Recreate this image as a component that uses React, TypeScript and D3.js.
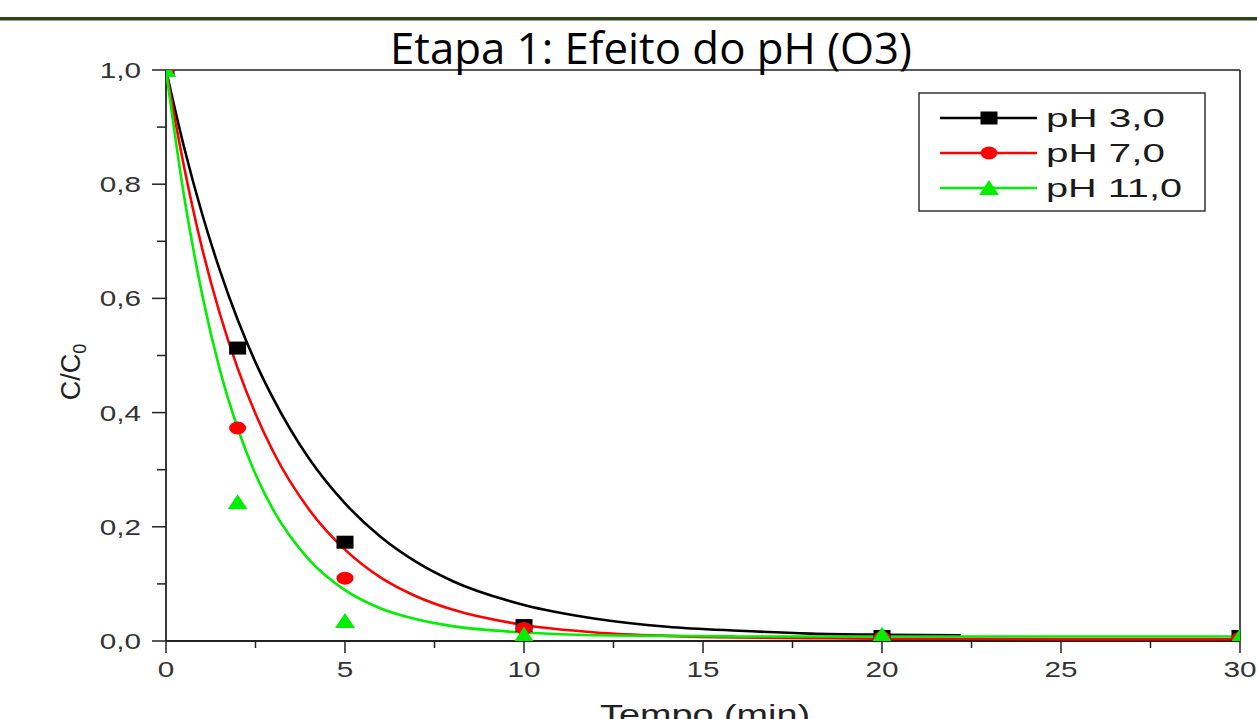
import * as d3 from "d3";

// measured points, C/C0 vs time (min)
const times = [0, 2, 5, 10, 20, 30];
const ph3 = [1.0, 0.513, 0.173, 0.027, 0.008, 0.008];
const ph7 = [1.0, 0.373, 0.11, 0.022, 0.006, 0.005];
const ph11 = [1.0, 0.243, 0.035, 0.011, 0.011, 0.008];

// fitted curves
const fitT = [0, 0.5, 1, 1.5, 2, 2.5, 3, 4, 5, 6, 7, 8, 10, 12, 14, 16, 18, 20, 22.2, 25, 30];
const fit3 = [1.0, 0.866, 0.75, 0.65, 0.563, 0.488, 0.424, 0.319, 0.241, 0.182, 0.138, 0.105, 0.063, 0.039, 0.025, 0.018, 0.013, 0.011, 0.01];
const fit7 = [1.0, 0.832, 0.69, 0.574, 0.478, 0.398, 0.331, 0.23, 0.16, 0.111, 0.078, 0.055, 0.028, 0.015, 0.009, 0.006, 0.005, 0.004, 0.004, 0.003, 0.003];
const fit11 = [1.0, 0.781, 0.61, 0.476, 0.373, 0.292, 0.229, 0.142, 0.089, 0.057, 0.038, 0.026, 0.015, 0.01, 0.009, 0.008, 0.008, 0.008, 0.008, 0.008, 0.008];

const labels = ["pH 3,0", "pH 7,0", "pH 11,0"];
const colors = ["#000000", "#ff0000", "#00ee00"];
const shapes = ["square", "circle", "triangle"];

const W = 1257;
const H = 719;

const x = d3.scaleLinear().domain([0, 30]).range([166, 1240]);
const y = d3.scaleLinear().domain([0, 1]).range([641, 70]);

const comma = (v: number) => d3.format(".1f")(v).replace(".", ",");

// the original picture is stretched sideways, so labels are widened a bit
const STRETCH = 1.35;

function Marker({ cx, cy, shape, color }: { cx: number; cy: number; shape: string; color: string }) {
  if (shape === "square") return <rect x={cx - 8.5} y={cy - 6.5} width={17} height={13} fill={color} />;
  if (shape === "circle") return <ellipse cx={cx} cy={cy} rx={8.5} ry={6.5} fill={color} />;
  return <path d={`M${cx - 10},${cy + 7}L${cx + 10},${cy + 7}L${cx},${cy - 8}Z`} fill={color} />;
}

export default function App() {
  const series = [ph3, ph7, ph11];
  const fits = [fit3, fit7, fit11];
  const line = d3
    .line<[number, number]>()
    .x((d) => x(d[0]))
    .y((d) => y(d[1]))
    .curve(d3.curveMonotoneX);

  const yTicks = d3.range(0, 11).map((i) => i / 10);
  const xMajor = d3.range(0, 31, 5);
  const xMinor = d3.range(2.5, 30, 5);
  const axisColor = "#222";
  const tickFont = "'Liberation Sans', Arial, sans-serif";

  return (
    <div style={{ position: "fixed", left: 0, top: 0 }}>
      <svg width={W} height={H} style={{ display: "block", background: "#fff" }}>
        <defs>
          <clipPath id="plot">
            <rect x={x(0)} y={y(1)} width={x(30) - x(0)} height={y(0) - y(1)} />
          </clipPath>
        </defs>

        <rect x={0} y={17} width={W} height={3.5} fill="#2b4716" />

        {/* frame */}
        <line x1={x(0)} x2={x(30)} y1={y(1)} y2={y(1)} stroke={axisColor} strokeWidth={1.6} />
        <line x1={x(30)} x2={x(30)} y1={y(1)} y2={y(0)} stroke={axisColor} strokeWidth={1.6} />
        <line x1={x(0)} x2={x(0)} y1={y(1)} y2={y(0)} stroke={axisColor} strokeWidth={1.8} />
        <line x1={x(0)} x2={x(30)} y1={y(0)} y2={y(0)} stroke={axisColor} strokeWidth={1.8} />

        <text
          x={651}
          y={64}
          textAnchor="middle"
          fontFamily="'Open Sans', sans-serif"
          fontSize={43}
          textLength={522}
          lengthAdjust="spacingAndGlyphs"
          fill="#000"
        >
          Etapa 1: Efeito do pH (O3)
        </text>

        {/* y ticks */}
        {yTicks.map((v, i) => (
          <g key={"y" + i}>
            <line
              x1={x(0) - (i % 2 === 0 ? 14 : 9)}
              x2={x(0)}
              y1={y(v)}
              y2={y(v)}
              stroke={axisColor}
              strokeWidth={1.5}
            />
            {i % 2 === 0 && (
              <text
                transform={`translate(141,${y(v) + 8}) scale(${STRETCH},1)`}
                textAnchor="end"
                fontFamily={tickFont}
                fontSize={22}
                fill="#333"
              >
                {comma(v)}
              </text>
            )}
          </g>
        ))}

        {/* x ticks */}
        {xMajor.map((v) => (
          <g key={"x" + v}>
            <line x1={x(v)} x2={x(v)} y1={y(0)} y2={y(0) + 12} stroke={axisColor} strokeWidth={1.5} />
            <text
              transform={`translate(${x(v)},677) scale(${STRETCH},1)`}
              textAnchor="middle"
              fontFamily={tickFont}
              fontSize={22}
              fill="#333"
            >
              {v}
            </text>
          </g>
        ))}
        {xMinor.map((v) => (
          <line key={"m" + v} x1={x(v)} x2={x(v)} y1={y(0)} y2={y(0) + 7} stroke={axisColor} strokeWidth={1.5} />
        ))}

        {/* axis titles */}
        <text
          transform={`translate(705,724) scale(${STRETCH},1)`}
          textAnchor="middle"
          fontFamily={tickFont}
          fontSize={28}
          fill="#222"
        >
          Tempo (min)
        </text>
        <text
          transform="translate(80,372) rotate(-90)"
          textAnchor="middle"
          fontFamily={tickFont}
          fontSize={27}
          fill="#222"
        >
          C/C
          <tspan fontSize={18} dy={6}>
            0
          </tspan>
        </text>

        {/* curves and points */}
        <g clipPath="url(#plot)">
          {fits.map((f, i) => (
            <path
              key={"f" + i}
              d={line(f.map((v, j) => [fitT[j], v] as [number, number])) || ""}
              fill="none"
              stroke={colors[i]}
              strokeWidth={2.6}
            />
          ))}
          {series.map((s, i) =>
            s.map((v, j) => (
              <Marker key={`p${i}-${j}`} cx={x(times[j])} cy={y(v)} shape={shapes[i]} color={colors[i]} />
            ))
          )}
        </g>

        {/* legend */}
        <rect x={919} y={93} width={286} height={118} fill="#fff" stroke="#333" strokeWidth={1.5} />
        {labels.map((lab, i) => {
          const ly = 118 + i * 35;
          return (
            <g key={lab}>
              <line x1={940} x2={1037} y1={ly} y2={ly} stroke={colors[i]} strokeWidth={2.6} />
              <Marker cx={989} cy={ly} shape={shapes[i]} color={colors[i]} />
              <text
                x={1046}
                y={ly + 9}
                fontFamily={tickFont}
                fontSize={25}
                textLength={i === 2 ? 136 : 119}
                lengthAdjust="spacingAndGlyphs"
                fill="#1a1a1a"
              >
                {lab}
              </text>
            </g>
          );
        })}
      </svg>
    </div>
  );
}
